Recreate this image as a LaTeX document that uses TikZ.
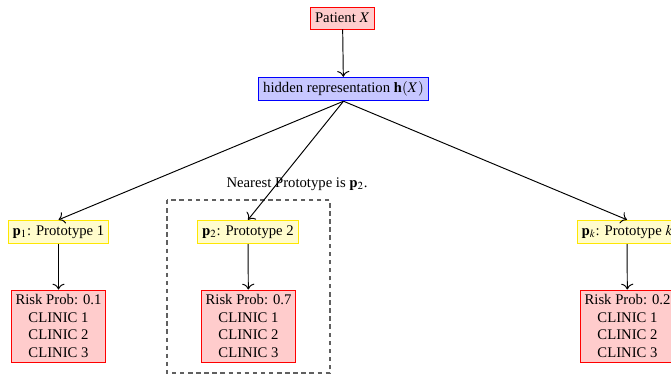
\documentclass[tikz,border=0pt]{standalone}
\usepackage{mathptmx}
\usepackage{fontspec}
\setmainfont{Liberation Serif}
\usetikzlibrary{arrows.meta}
\tikzset{
  redbox/.style={draw=red, fill=red!20, inner sep=3pt, align=center, line width=0.6pt},
  bluebox/.style={draw=blue, fill=blue!22, inner sep=3pt, line width=0.6pt},
  yelbox/.style={draw=yellow!90!orange, fill=yellow!20, inner sep=3pt, minimum height=16pt, line width=0.6pt},
  conn/.style={-{To[scale=1.3]}, line width=0.65pt}
}
\begin{document}
\begin{tikzpicture}[x=0.68pt,y=-0.68pt, font=\fontsize{10}{12}\selectfont]
\useasboundingbox (0,0) rectangle (671,377);
\node[redbox, minimum height=15pt] (pat) at (342.5,18) {Patient $X$};
\node[bluebox, minimum height=15pt] (hid) at (343.5,89) {hidden representation $\mathbf{h}(X)$};
\node[yelbox] (p1) at (58.5,232) {$\mathbf{p}_1$: Prototype 1};
\node[yelbox] (p2) at (248,232) {$\mathbf{p}_2$: Prototype 2};
\node[yelbox] (pk) at (627,232) {$\mathbf{p}_k$: Prototype $k$};
\node[redbox] (r1) at (58.5,326) {Risk Prob: 0.1\\CLINIC 1\\CLINIC 2\\CLINIC 3};
\node[redbox] (r2) at (248.5,326) {Risk Prob: 0.7\\CLINIC 1\\CLINIC 2\\CLINIC 3};
\node[redbox] (rk) at (627.5,326) {Risk Prob: 0.2\\CLINIC 1\\CLINIC 2\\CLINIC 3};
\node (near) at (297,184) {Nearest Prototype is $\mathbf{p}_2$.};
\draw[dash pattern=on 3pt off 2.5pt, line width=0.85pt, gray!75!black] (167,200) rectangle (330,373);
\draw[conn] (pat) -- (hid);
\draw[conn] (hid.south) -- (p1.north);
\draw[conn] (hid.south) -- (p2.north);
\draw[conn] (hid.south) -- (pk.north);
\draw[conn] (p1) -- (r1);
\draw[conn] (p2) -- (r2);
\draw[conn] (pk) -- (rk);
\end{tikzpicture}
\end{document}
